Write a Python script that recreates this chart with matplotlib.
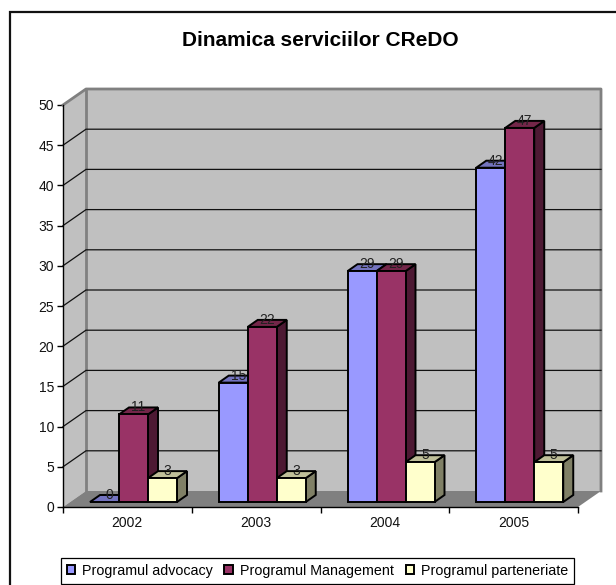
import numpy as np
import matplotlib
matplotlib.use('Agg')
import matplotlib.pyplot as plt
from matplotlib.patches import Polygon, Rectangle

years = ['2002', '2003', '2004', '2005']
advocacy = [0, 15, 29, 42]
management = [11, 22, 29, 47]
parteneriat = [3, 3, 5, 5]
series_names = ['Programul advocacy', 'Programul Management', 'Programul parteneriate']
title = 'Dinamica serviciilor CReDO'

front_cols = ['#9999FF', '#993366', '#FFFFCC']
top_cols = ['#7373BF', '#732649', '#BFBF99']
side_cols = ['#4D4D80', '#4D1933', '#808066']

plt.rcParams['font.family'] = ['Liberation Sans', 'DejaVu Sans']

W, H = 616, 585
fig = plt.figure(figsize=(W / 100, H / 100), dpi=100, facecolor='white')

# frame of the whole chart, right and bottom edges fall outside the picture
fig.add_artist(Rectangle((10 / W, 1 - 600 / H), 630 / W, 588 / H, transform=fig.transFigure,
                         fill=False, ec='#111111', lw=1.6))

# axes sit on the front plane of the 3D box
ax = fig.add_axes([63 / W, 1 - 507 / H, 515 / W, 402 / H])
ax.set_xlim(0, 4)
ax.set_ylim(0, 50)
ax.patch.set_alpha(0)
for s in ['top', 'right']:
    ax.spines[s].set_visible(False)
for s in ['left', 'bottom']:
    ax.spines[s].set_linewidth(1.0)
    ax.spines[s].set_color('black')

px_x = 4 / 515
px_y = 50 / 402
wall_dx = 23 * px_x
wall_dy = 16 * px_y


def poly(pts, fc, ec='none', lw=0, z=1):
    ax.add_patch(Polygon(pts, closed=True, fc=fc, ec=ec, lw=lw, zorder=z, clip_on=False,
                         joinstyle='miter'))


# walls and floor
poly([(wall_dx, wall_dy), (4 + wall_dx, wall_dy), (4 + wall_dx, 50 + wall_dy), (wall_dx, 50 + wall_dy)],
     '#C0C0C0', z=1)
poly([(0, 0), (wall_dx, wall_dy), (wall_dx, 50 + wall_dy), (0, 50)], '#C0C0C0', z=1)
poly([(0, 0), (4, 0), (4 + wall_dx, wall_dy), (wall_dx, wall_dy)], '#808080', z=1)
ax.plot([0, wall_dx, 4 + wall_dx, 4 + wall_dx], [50, 50 + wall_dy, 50 + wall_dy, wall_dy],
        color='#808080', lw=2, clip_on=False, zorder=2)
ax.plot([wall_dx, wall_dx], [wall_dy, 50 + wall_dy], color='#808080', lw=2, clip_on=False, zorder=2)

# gridlines
for v in np.arange(5, 50, 5):
    ax.plot([0, wall_dx, 4 + wall_dx], [v, v + wall_dy, v + wall_dy], color='#111111', lw=0.9,
            clip_on=False, zorder=2, solid_joinstyle='miter')

# bars
bar_w = 29 * px_x
depth_x = 10 * px_x
depth_y = 7 * px_y
off_x = 27 * px_x
off_y = 5 * px_y
bar_scale = 0.99  # bars stand a little behind the front plane
all_series = [advocacy, management, parteneriat]
for i in range(len(years)):
    for j, vals in enumerate(all_series):
        v = vals[i]
        x0 = i + off_x + j * bar_w
        x1 = x0 + bar_w
        y0 = off_y
        y1 = off_y + v * bar_scale
        z = 5 + j
        lw = 1.4
        poly([(x1, y0), (x1 + depth_x, y0 + depth_y), (x1 + depth_x, y1 + depth_y), (x1, y1)],
             side_cols[j], 'black', lw, z)
        poly([(x0, y1), (x1, y1), (x1 + depth_x, y1 + depth_y), (x0 + depth_x, y1 + depth_y)],
             top_cols[j], 'black', lw, z)
        if v > 0:
            poly([(x0, y0), (x1, y0), (x1, y1), (x0, y1)], front_cols[j], 'black', lw, z)
        ax.text(x0 + bar_w / 2 + depth_x / 2, y1 + depth_y, str(v), ha='center', va='center',
                fontsize=10, color='#222222', zorder=20, clip_on=False)

ax.set_yticks(np.arange(0, 51, 5))
ax.set_xticks(np.arange(0, 5))
ax.set_xticklabels([])
ax.tick_params(axis='y', length=4.5, width=1, labelsize=10, pad=2, labelcolor='#111111')
ax.tick_params(axis='x', length=4, width=1)
for i, y in enumerate(years):
    ax.text(i + 0.5, -16 * px_y, y, ha='center', va='center', fontsize=10, color='#111111')

fig.text(320 / W, 1 - 40 / H, title, ha='center', va='center', fontsize=15, fontweight='bold',
         color='black')

handles = [Rectangle((0, 0), 1, 1, fc=c, ec='black', lw=1.4) for c in front_cols]
leg = fig.legend(handles, series_names, loc='center', bbox_to_anchor=(317.5 / W, 1 - 571 / H),
                 ncol=3, frameon=True, fancybox=False, edgecolor='black', framealpha=1,
                 fontsize=10.3, handlelength=0.6, handleheight=0.6, handletextpad=0.5, columnspacing=0.8,
                 borderpad=0.42)
leg.get_frame().set_linewidth(0.9)

fig.savefig('out.png', dpi=100)
